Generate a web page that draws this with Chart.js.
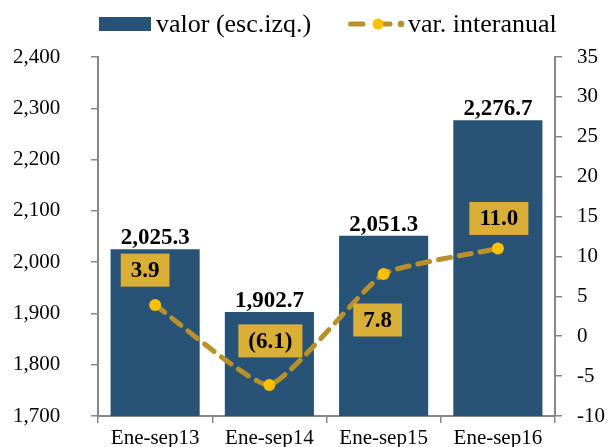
<!DOCTYPE html>
<html>
<head>
<meta charset="utf-8">
<script src="https://cdn.jsdelivr.net/npm/chart.js@4/dist/chart.umd.min.js"></script>
<style>
  html, body { margin: 0; padding: 0; background: #fff; }
  #wrap { position: relative; width: 607px; height: 447px; overflow: hidden; }
  #c { position: absolute; left: 0; top: 0; }
  .leg { position: absolute; top: 9px; font-family: "Liberation Serif", "DejaVu Serif", serif; font-size: 26px; color: #000; white-space: nowrap; line-height: 30px; }
  .sw { position: absolute; left: 99px; top: 17px; width: 52px; height: 14px; background: #285377; }
  .ic { position: absolute; left: 346px; top: 17px; }
</style>
</head>
<body>
<div id="wrap">
  <canvas id="c" width="607" height="447"></canvas>
  <div class="sw"></div>
  <div class="leg" style="left:156px;">valor (esc.izq.)</div>
  <svg class="ic" width="62" height="14"><line x1="4.5" y1="7" x2="17" y2="7" stroke="#B8912A" stroke-width="5" stroke-linecap="round"/><line x1="32" y1="7" x2="44" y2="7" stroke="#B8912A" stroke-width="5" stroke-linecap="round"/><circle cx="32" cy="7" r="5.5" fill="#FFC000"/><circle cx="55" cy="7" r="3.3" fill="#B8912A"/></svg>
  <div class="leg" style="left:408px;">var. interanual</div>
</div>
<script>
const categories = ["Ene-sep13", "Ene-sep14", "Ene-sep15", "Ene-sep16"];
const valor = [2025.3, 1902.7, 2051.3, 2276.7];
const variacion = [3.9, -6.1, 7.8, 11.0];
const leftTicks = [1700, 1800, 1900, 2000, 2100, 2200, 2300, 2400];
const rightTicks = [-10, -5, 0, 5, 10, 15, 20, 25, 30, 35];

const SERIF = '"Liberation Serif", "DejaVu Serif", serif';
const fmtThousands = v => v.toLocaleString('en-US', {minimumFractionDigits: 1, maximumFractionDigits: 1});
const fmtVar = v => v < 0 ? '(' + Math.abs(v).toFixed(1) + ')' : v.toFixed(1);

// label offsets for the line labels (style)
const lineLabelOffsets = [{dx: -10, dy: -35}, {dx: 1, dy: -44}, {dx: -6, dy: 46}, {dx: 1, dy: -30}];

const labelPlugin = {
  id: 'valueLabels',
  afterDatasetsDraw(chart) {
    const ctx = chart.ctx;
    ctx.save();
    ctx.font = 'bold 23px ' + SERIF;
    ctx.textAlign = 'center';
    ctx.textBaseline = 'middle';
    const barMeta = chart.getDatasetMeta(0);
    barMeta.data.forEach((el, i) => {
      ctx.fillStyle = '#000';
      ctx.fillText(fmtThousands(valor[i]), el.x, el.y - 11);
    });
    const lineMeta = chart.getDatasetMeta(1);
    lineMeta.data.forEach((el, i) => {
      const t = fmtVar(variacion[i]);
      const w = ctx.measureText(t).width + 20;
      const h = 33;
      const cx = el.x + lineLabelOffsets[i].dx;
      const cy = el.y + lineLabelOffsets[i].dy;
      ctx.fillStyle = '#DAAF38';
      ctx.fillRect(cx - w / 2, cy - h / 2, w, h);
      ctx.fillStyle = '#000';
      ctx.fillText(t, cx, cy + 1);
    });
    ctx.restore();
  }
};

new Chart(document.getElementById('c'), {
  data: {
    labels: categories,
    datasets: [
      {
        type: 'bar',
        label: 'valor (esc.izq.)',
        data: valor,
        backgroundColor: '#285377',
        yAxisID: 'y',
        categoryPercentage: 1.0,
        barPercentage: 0.78,
        order: 2
      },
      {
        type: 'line',
        label: 'var. interanual',
        data: variacion,
        yAxisID: 'y1',
        borderColor: '#B8912A',
        borderWidth: 5,
        borderDash: [12, 9],
        borderCapStyle: 'round',
        tension: 0.15,
        pointRadius: 6,
        pointBackgroundColor: '#FFC000',
        pointBorderColor: '#FFC000',
        pointBorderWidth: 0,
        fill: false,
        order: 1
      }
    ]
  },
  options: {
    responsive: false,
    animation: false,
    devicePixelRatio: 1,
    layout: { padding: { left: 13, right: 2, top: 57, bottom: 0 } },
    plugins: { legend: { display: false }, tooltip: { enabled: false } },
    scales: {
      x: {
        afterFit: s => { s.height = 31; },
        grid: { display: true, drawOnChartArea: false, offset: true, tickLength: 7, color: '#888', lineWidth: 1.5 },
        border: { display: true, color: '#888', width: 2 },
        ticks: { color: '#000', font: { family: SERIF, size: 21 }, padding: 3, maxRotation: 0 }
      },
      y: {
        position: 'left',
        min: 1700, max: 2400,
        afterFit: s => { s.width = 85; },
        afterBuildTicks: s => { s.ticks = leftTicks.map(v => ({value: v})); },
        grid: { display: true, drawOnChartArea: false, tickLength: 7, color: '#888', lineWidth: 1.5 },
        border: { display: true, color: '#888', width: 2 },
        ticks: { color: '#000', font: { family: SERIF, size: 21 }, padding: 5, crossAlign: 'far',
          callback: v => v.toLocaleString('en-US') }
      },
      y1: {
        position: 'right',
        min: -10, max: 35,
        afterFit: s => { s.width = 50; },
        afterBuildTicks: s => { s.ticks = rightTicks.map(v => ({value: v})); },
        grid: { display: true, drawOnChartArea: false, tickLength: 7, color: '#888', lineWidth: 1.5 },
        border: { display: true, color: '#888', width: 2 },
        ticks: { color: '#000', font: { family: SERIF, size: 21 }, padding: 15,
          callback: v => String(v) }
      }
    }
  },
  plugins: [labelPlugin]
});
</script>
</body>
</html>
